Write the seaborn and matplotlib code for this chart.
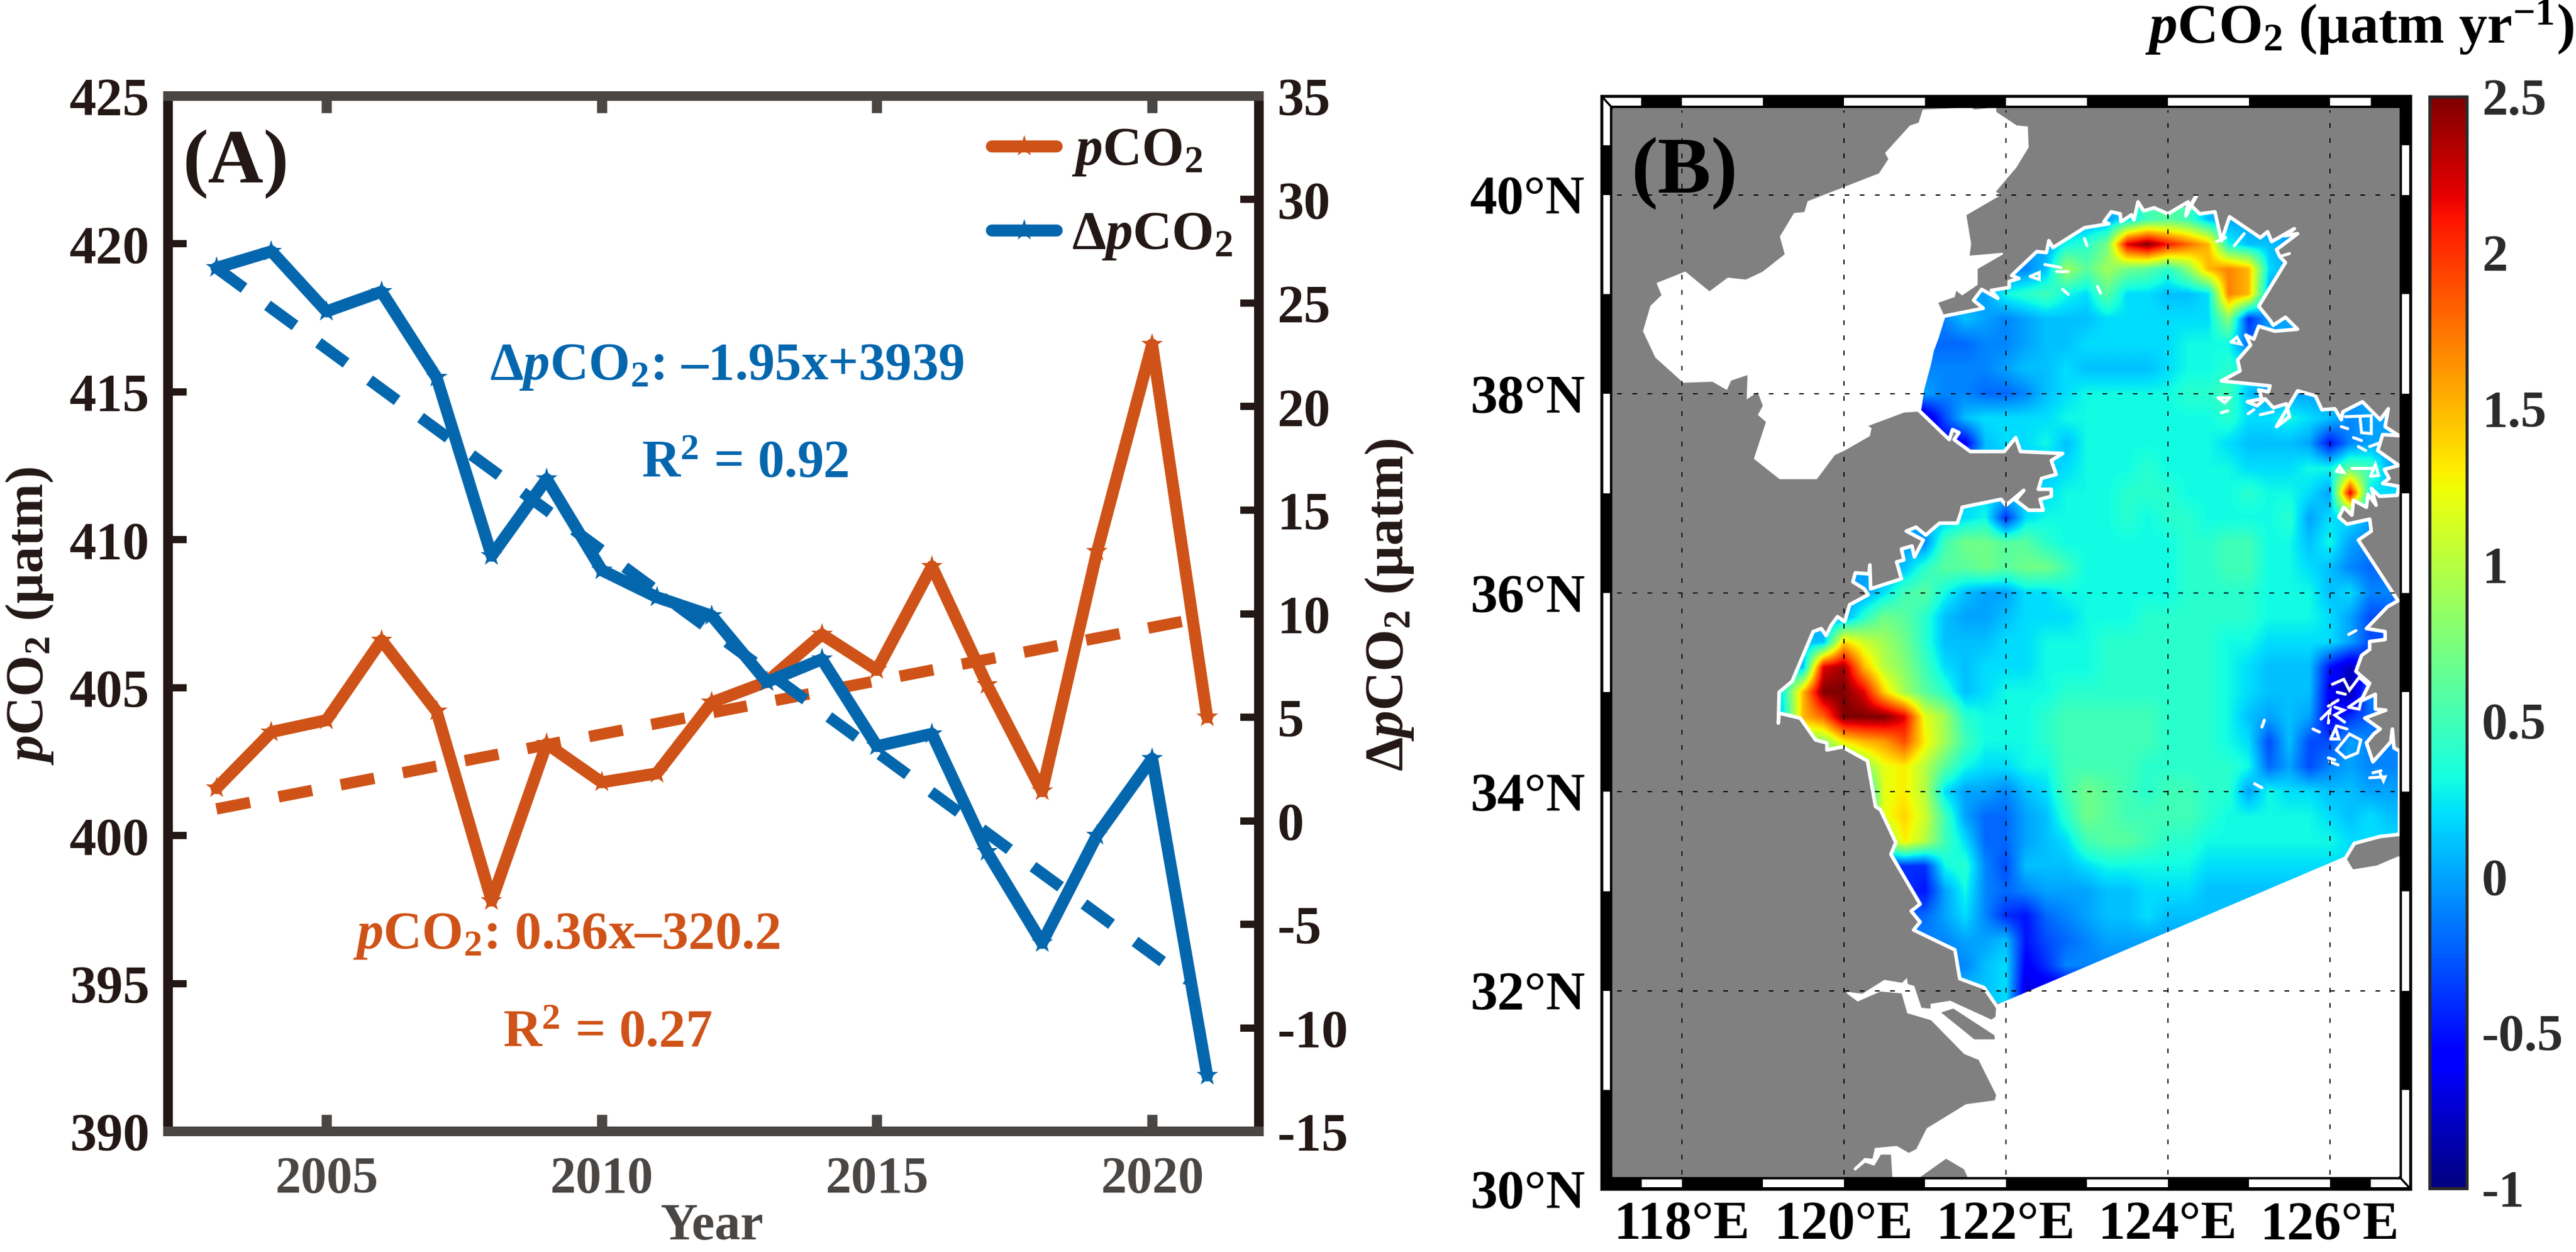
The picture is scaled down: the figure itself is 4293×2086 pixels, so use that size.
import numpy as np
import matplotlib
matplotlib.use("Agg")
import matplotlib.pyplot as plt
from matplotlib.patches import Polygon, Rectangle
import seaborn as sns

W, H, DPI = 4293, 2086, 100

years = list(range(2003, 2022))
pco2 = [401.6, 403.5, 403.9, 406.6, 404.2, 397.8, 403.1, 401.8, 402.1, 404.5,
        405.2, 406.8, 405.6, 409.1, 405.1, 401.5, 409.6, 416.6, 404.0]
dpco2 = [26.7, 27.5, 24.6, 25.55, 21.4, 12.8, 16.5, 12.1, 10.8, 9.9,
         6.7, 7.8, 3.6, 4.2, -1.5, -5.9, -0.7, 3.0, -12.3]
trend_years_p = [2003, 2021]
trend_p = [400.9, 407.4]
trend_years_d = [2003, 2020.65]
trend_d = [26.7, -7.7]
x_ticks = [2005, 2010, 2015, 2020]
p_ticks = list(range(390, 426, 5))
d_ticks = list(range(-15, 36, 5))
cbar_ticks = [-1, -0.5, 0, 0.5, 1, 1.5, 2, 2.5]
cbar_labels = ["-1", "-0.5", "0", "0.5", "1", "1.5", "2", "2.5"]
lon_ticks = [118, 120, 122, 124, 126]
lat_ticks = [30, 32, 34, 36, 38, 40]

# trend field (tenths of uatm/yr); rows from 39.75N southward in 0.25 deg steps,
# each row starts at field_start_lon and continues eastward in 0.25 deg steps
field_start_lon = [123.25, 122.5, 122.25, 121.75, 121.25, 121.25, 121.0, 121.0, 121.0, 121.5, 122.5, 122.25,
                   121.25, 120.75, 120.5, 120.25, 120.0, 119.75, 119.5, 119.25, 119.25, 119.75, 120.0,
                   120.25, 120.25, 120.5, 120.75, 120.75, 121.0, 121.25, 121.5, 121.75]
field_rows = [
    [0, 2, 5, 6, 5, 1, 0, 0],
    [0, 3, 4, 7, 22, 25, 21, 18, 15, 3, 1, 1, 0],
    [-1, 1, 9, 6, 9, 7, 6, 4, 8, 15, 17, 15, 2, 0],
    [0, 3, 4, 5, 3, 2, 6, 2, 2, 1, 1, 2, 17, 15, 0],
    [-1, 1, 0, -1, 0, 1, 1, 1, 2, 2, 2, 2, 2, 2, 8, -4, 0],
    [-2, -2, -1, -1, 0, 1, 1, 2, 2, 2, 2, 2, 3, 3, 3, -2, 0],
    [-1, -1, -1, -1, 0, 1, 1, 2, 1, 1, 1, 1, 2, 3, 3, 4, 3, 1, 1],
    [0, -1, -1, -2, -2, -1, 1, 2, 3, 3, 3, 3, 3, 4, 4, 5, 1, 0, 0, 0, 0],
    [-8, -3, 1, 2, 2, 2, 2, 3, 3, 3, 3, 3, 3, 3, 3, 4, 2, 2, 3, 2, 1, -1, 0],
    [-6, 1, 2, 2, 3, 1, 3, 3, 3, 3, 3, 3, 3, 2, 1, 1, 1, 0, -5, -1, 0],
    [1, 2, 3, 3, 3, 4, 3, 3, 3, 3, 2, 2, 2, 3, 3, 6, 5, 0],
    [2, 2, 3, 3, 3, 4, 4, 4, 3, 3, 3, 4, 3, 3, 2, 0, 22, 2],
    [1, 2, 3, -4, 2, 3, 3, 3, 3, 4, 3, 4, 4, 3, 3, 3, 3, 4, 0, 2, 2, 0],
    [0, -1, 5, 7, 7, 6, 6, 4, 3, 3, 3, 3, 3, 3, 4, 4, 5, 5, 3, 3, 1, 3, 0, -1],
    [0, 1, 4, 6, 6, 7, 6, 7, 7, 5, 3, 3, 3, 3, 3, 4, 4, 5, 5, 3, 3, 2, 1, -1, -2],
    [0, 2, 5, 6, 3, 1, 0, 0, 2, 2, 3, 3, 3, 3, 3, 3, 4, 4, 4, 4, 3, 3, 3, 1, 2, -1],
    [0, 4, 7, 6, 4, 1, 0, 0, 1, 2, 2, 2, 3, 3, 3, 4, 4, 4, 4, 4, 4, 3, 3, 3, 2, 0, -3],
    [1, 14, 11, 9, 7, 4, 1, 1, 1, 2, 2, 3, 3, 3, 4, 4, 4, 4, 4, 4, 3, 3, 2, 2, 2, 2, 0, -3],
    [1, 22, 24, 15, 10, 8, 5, 2, 1, 2, 2, 2, 3, 3, 3, 4, 4, 4, 4, 4, 4, 3, 2, 1, 1, 1, -5, -8, -5],
    [3, 15, 25, 25, 22, 14, 9, 6, 4, 1, 2, 3, 3, 3, 4, 4, 4, 4, 4, 4, 4, 4, 3, 2, 1, 1, 1, -6, -9, -1],
    [2, 15, 18, 25, 25, 25, 22, 12, 9, 4, 3, 3, 3, 4, 5, 5, 5, 5, 5, 4, 4, 4, 3, 1, 0, 1, 0, -6, -4, -2],
    [8, 13, 15, 16, 19, 13, 9, 5, 3, 3, 3, 4, 5, 5, 5, 5, 5, 4, 4, 4, 3, 2, -3, 1, -3, -3, 0, -1],
    [4, 8, 12, 13, 10, 6, 3, 2, 2, 3, 3, 5, 5, 5, 5, 4, 4, 4, 4, 4, 3, -2, 0, -3, -1, 0, -1],
    [1, 12, 13, 10, 2, 0, 0, -1, 1, 2, 5, 7, 6, 5, 4, 5, 5, 4, 4, 0, 3, 2, 2, 1, 1, 0, 0],
    [1, 12, 14, 11, 5, 0, -2, -2, 0, 1, 4, 7, 6, 5, 5, 5, 5, 4, 3, 3, 3, 3, 3, 2, 1, 2, 1],
    [8, 13, 10, 5, 2, -2, -2, 0, 1, 2, 5, 6, 6, 5, 4, 4, 3, 3, 3, 3, 3, 3, 3, 2],
    [-4, -4, 3, 4, -1, -3, 1, 1, 1, 2, 3, 3, 3, 3, 3, 2, 2, 2, 2],
    [-4, -5, 0, 3, -1, -2, -1, 0, 0, 0, 1, 1, 2, 2, 2, 1],
    [-2, 0, 2, -1, -4, -5, -2, -1, 0, 1, 1, 2, 1],
    [-1, 0, 0, 1, -5, -3, -2, -1, 0],
    [-1, 1, 2, -6, -4, -1],
    [1, 2, -7],
]
field_first_lat = 39.75
field_first_lon = 119.0
field_step = 0.25
field_cols = 32

sea_lon = [120.93, 120.97, 121.01, 121.05, 121.09, 121.15, 121.18, 121.23, 121.72, 121.6, 121.7, 121.9, 121.82, 122.04,
           122.04, 122.16, 122.07, 122.38, 122.5, 122.53, 122.58, 122.97, 123.27, 123.21, 123.3, 123.41, 123.42, 123.55,
           123.58, 123.63, 123.7, 123.83, 124.0, 124.25, 124.22, 124.35, 124.28, 124.39, 124.58, 124.66, 124.76, 125.14,
           125.23, 125.28, 125.56, 125.44, 125.6, 125.34, 125.38, 125.45, 125.12, 125.26, 125.3, 125.45, 125.6, 125.32,
           125.12, 125.06, 124.96, 125.02, 124.86, 124.89, 124.66, 125.26, 125.24, 125.12, 125.16, 124.98, 125.1, 125.2,
           125.3, 125.46, 125.5, 125.34, 125.6, 125.82, 125.9, 126.06, 126.14, 126.16, 126.4, 126.62, 126.72, 126.68,
           126.85, 126.65, 126.59, 126.85, 126.67, 126.73, 126.65, 126.85, 126.83, 126.61, 126.51, 126.57, 126.47, 126.45,
           126.29, 126.27, 126.17, 126.11, 126.21, 126.49, 126.51, 126.35, 126.84, 126.71, 126.45, 126.68, 126.68, 126.49,
           126.49, 126.39, 126.32, 126.49, 126.38, 126.56, 126.56, 126.69, 126.43, 126.62, 126.54, 126.45, 126.53, 126.75,
           126.77, 126.79, 126.86, 126.86, 126.84, 126.62, 126.3, 126.19, 121.89, 121.73, 121.43, 121.37, 120.86, 120.94,
           120.83, 120.94, 120.58, 120.64, 120.45, 120.39, 120.29, 119.98, 119.79, 119.79, 119.65, 119.46, 119.2, 119.19,
           119.2, 119.36, 119.62, 119.72, 119.78, 119.84, 119.92, 120.01, 120.07, 120.3, 120.25, 120.11, 120.14, 120.31,
           120.32, 120.33, 120.71, 120.65, 120.74, 120.71, 120.84, 120.87, 120.98, 120.77, 120.89, 121.01, 121.18, 121.4,
           121.45, 121.46, 121.94, 122.0, 122.22, 122.12, 122.28, 122.46, 122.42, 122.56, 122.56, 122.4, 122.44, 122.62,
           122.56, 122.7, 122.18, 122.12, 121.98, 121.56, 121.36, 121.42, 121.34, 121.3]
sea_lat = [37.83, 38.05, 38.17, 38.29, 38.44, 38.57, 38.65, 38.78, 38.86, 38.94, 39.05, 38.96, 39.04, 39.07,
           39.13, 39.16, 39.19, 39.43, 39.42, 39.54, 39.47, 39.67, 39.71, 39.73, 39.83, 39.81, 39.73, 39.8,
           39.75, 39.93, 39.84, 39.87, 39.81, 39.93, 39.79, 39.99, 39.9, 39.81, 39.83, 39.54, 39.78, 39.57,
           39.63, 39.53, 39.66, 39.59, 39.61, 39.45, 39.38, 39.32, 38.88, 38.74, 38.69, 38.77, 38.65, 38.63,
           38.68, 38.55, 38.59, 38.49, 38.34, 38.23, 38.13, 38.08, 38.02, 38.04, 37.95, 37.92, 37.88, 37.95,
           37.86, 37.9, 37.77, 37.67, 38.03, 37.98, 37.84, 37.85, 37.74, 37.82, 37.92, 37.74, 37.85, 37.67,
           37.58, 37.59, 37.43, 37.28, 37.24, 37.15, 37.1, 37.07, 36.98, 36.97, 37.05, 36.88, 36.99, 36.86,
           36.93, 36.78, 36.86, 36.76, 36.69, 36.74, 36.62, 36.53, 35.92, 35.86, 35.64, 35.61, 35.53, 35.51,
           35.43, 35.37, 35.21, 35.09, 34.91, 34.98, 34.83, 34.82, 34.74, 34.63, 34.58, 34.49, 34.3, 34.5,
           34.63, 34.44, 34.41, 33.57, 33.57, 33.55, 33.48, 33.33, 31.84, 32.03, 32.12, 32.41, 32.61, 32.69,
           32.8, 32.87, 33.37, 33.49, 33.82, 33.85, 34.31, 34.45, 34.42, 34.49, 34.52, 34.74, 34.79, 34.69,
           35.0, 35.11, 35.61, 35.64, 35.57, 35.67, 35.76, 35.71, 35.88, 35.98, 36.04, 36.11, 36.2, 36.19,
           36.28, 36.04, 36.14, 36.31, 36.33, 36.44, 36.47, 36.36, 36.53, 36.62, 36.66, 36.58, 36.7, 36.7,
           36.82, 36.86, 36.94, 36.88, 37.03, 36.93, 36.83, 36.83, 36.94, 36.97, 37.04, 37.04, 37.15, 37.19,
           37.33, 37.4, 37.42, 37.56, 37.42, 37.42, 37.54, 37.61, 37.64, 37.54]

bohai_lon = [120.93, 120.97, 121.01, 121.05, 121.09, 121.15, 121.18, 121.23, 121.15, 121.36, 121.38, 121.46, 121.64, 121.64,
             121.96, 121.54, 121.56, 121.5, 121.92, 121.86, 122.12, 122.27, 122.26, 122.13, 121.87, 121.87, 121.74, 121.61,
             121.56, 120.98, 120.93, 120.82, 120.52, 120.56, 120.44, 119.56, 119.52, 119.39, 119.22, 119.28, 119.0, 118.79,
             118.57, 118.34, 118.04, 117.7, 117.76, 117.62, 117.53, 117.68, 118.02, 118.38, 118.55, 118.6, 118.82, 118.81,
             118.94, 119.01, 118.95, 119.05, 118.9, 119.21, 119.66, 119.88, 120.01, 120.31, 120.33, 120.28, 120.74]
bohai_lat = [37.83, 38.05, 38.17, 38.29, 38.44, 38.57, 38.65, 38.78, 38.92, 38.98, 39.05, 39.0, 39.1, 39.26,
             39.41, 39.38, 39.51, 39.8, 40.0, 40.03, 40.28, 40.48, 40.68, 40.69, 40.83, 40.87, 40.86, 40.85,
             40.87, 40.85, 40.72, 40.69, 40.42, 40.36, 40.21, 39.93, 39.82, 39.81, 39.58, 39.4, 39.22, 39.14,
             39.16, 39.02, 39.22, 39.11, 38.99, 38.88, 38.63, 38.37, 38.12, 38.13, 38.05, 38.14, 38.2, 37.96,
             38.03, 37.88, 37.79, 37.72, 37.35, 37.15, 37.15, 37.39, 37.44, 37.58, 37.65, 37.68, 37.82]

east_white_lon = [121.89, 126.19, 126.28, 126.58, 126.84, 126.9, 126.9, 121.55, 121.49, 121.26, 120.88, 120.61, 120.59, 120.45,
                  120.37, 120.26, 120.14, 120.13, 120.26, 120.36, 120.39, 120.65, 120.8, 120.9, 121.03, 121.51, 121.87, 121.89,
                  121.67, 121.49, 121.08, 120.79, 120.72, 120.45, 120.17, 120.04, 120.23, 120.5, 120.72, 120.77, 120.78, 120.86,
                  120.95, 121.08, 121.08, 121.31, 121.82, 121.88]
east_white_lat = [31.84, 33.33, 33.21, 33.25, 33.34, 33.34, 30.1, 30.1, 30.21, 30.32, 30.1, 30.1, 30.36, 30.36,
                  30.25, 30.28, 30.2, 30.21, 30.31, 30.3, 30.41, 30.43, 30.36, 30.4, 30.61, 30.85, 30.89, 30.95,
                  31.31, 31.37, 31.71, 31.78, 31.98, 32.0, 31.9, 31.98, 31.96, 32.1, 32.07, 32.11, 32.06, 32.04,
                  31.82, 31.81, 31.86, 31.89, 31.7, 31.73]
chongming_lon = [121.2, 121.35, 121.86, 121.86, 121.61]
chongming_lat = [31.78, 31.82, 31.55, 31.51, 31.51]

island_lons = [[122.48, 122.68], [122.62, 122.76], [122.3, 122.41, 122.41, 122.3], [122.97, 123.0], [122.7, 122.77],
               [123.13, 123.17], [124.6, 124.71], [124.82, 124.94], [124.78, 124.85, 124.9, 124.78], [125.38, 125.5],
               [124.62, 124.76, 124.7, 124.62], [124.66, 124.74], [124.99, 125.06], [125.14, 125.3],
               [126.19, 126.51, 126.51, 126.39, 126.37], [126.14, 126.22], [126.29, 126.39], [126.35, 126.44],
               [126.49, 126.59], [126.27, 126.53], [126.08, 126.12, 126.17, 126.08], [126.5, 126.56, 126.6, 126.5],
               [126.23, 126.32], [126.03, 126.17, 126.24, 126.36, 126.47], [126.09, 126.19], [125.98, 126.1],
               [125.89, 126.0, 125.98], [126.06, 126.17, 126.06, 126.18], [126.09, 126.21],
               [126.01, 126.07, 126.11, 126.01], [125.79, 125.87], [126.08, 126.24, 126.38, 126.34, 126.19, 126.08],
               [125.19, 125.16], [125.07, 125.16], [125.98, 126.06], [126.0, 126.1], [126.49, 126.68, 126.66, 126.62],
               [126.53, 126.63], [126.23, 126.39, 126.36, 126.23]]
island_lats = [[39.3, 39.27], [39.23, 39.23], [39.18, 39.22, 39.15, 39.18], [39.56, 39.49], [39.05, 39.0],
               [39.08, 39.01], [39.53, 39.57], [39.49, 39.61], [38.52, 38.57, 38.5, 38.52], [39.38, 39.41],
               [37.96, 37.96, 37.91, 37.96], [37.81, 37.83], [37.8, 37.84], [37.79, 37.82],
               [37.77, 37.78, 37.6, 37.61, 37.77], [37.67, 37.65], [37.56, 37.53], [37.47, 37.43],
               [37.47, 37.5], [37.25, 37.25], [37.22, 37.27, 37.21, 37.22], [37.17, 37.29, 37.18, 37.17],
               [35.58, 35.62], [35.08, 35.13, 35.02, 35.15, 35.07], [35.0, 34.98], [34.86, 34.92],
               [34.73, 34.82, 34.69], [34.85, 34.82, 34.77, 34.7], [34.66, 34.63],
               [34.53, 34.64, 34.53, 34.53], [34.63, 34.6], [34.42, 34.58, 34.52, 34.39, 34.34, 34.42],
               [34.72, 34.65], [34.08, 34.04], [34.34, 34.32], [34.3, 34.27], [34.14, 34.15, 34.11, 34.18],
               [34.19, 34.21], [34.85, 34.94, 34.83, 34.85]]

# frame strips: white pieces of the map border, in degrees
top_white = [(117, 117.5), (118, 119), (120, 121), (122, 123), (124, 125), (126, 126.5)]
bottom_white = [(117.5, 118), (119, 120), (121, 122), (123, 124), (125, 126), (126.5, 127)]
left_white = [(40.5, 41), (39, 40), (37, 38), (35, 36), (33, 34), (31, 32)]
right_white = [(40, 40.5), (38, 39), (36, 37), (34, 35), (32, 33), (30, 31)]

ORANGE = "#cf5318"
BLUE = "#0467ae"
INK = "#231815"
GRAYINK = "#4a4644"
CBINK = "#2b2b2b"
LAND = "#808080"

sns.set_style("white")
plt.rcParams.update({
    "font.family": ["Liberation Serif", "DejaVu Serif"],
    "font.weight": "bold",
    "axes.labelweight": "bold",
    "axes.unicode_minus": False,
    "mathtext.fontset": "custom",
    "mathtext.rm": "Liberation Serif:bold",
    "mathtext.it": "Liberation Serif:italic:bold",
    "mathtext.bf": "Liberation Serif:bold",
    "mathtext.default": "regular",
})


def rect_px(l, t, r, b):
    return [l / W, 1 - b / H, (r - l) / W, (b - t) / H]


def px_text(x, y, s, **kw):
    return fig.text(x / W, 1 - y / H, s, **kw)


pt = 72 / DPI  # points per output pixel
fig = plt.figure(figsize=(W / DPI, H / DPI), dpi=DPI, facecolor="white")

# ---------- panel A ----------
ax = fig.add_axes(rect_px(280, 160, 2098, 1885))
ax2 = ax.twinx()
ax.set_facecolor("none")
line_kw = dict(errorbar=None, legend=False, linewidth=20 * pt, marker="*", markersize=27, markeredgewidth=0)
dash_kw = dict(errorbar=None, legend=False, linewidth=19 * pt, linestyle=(0, (3.0, 2.55)))
sns.lineplot(x=trend_years_p, y=trend_p, ax=ax, color=ORANGE, **dash_kw)
sns.lineplot(x=years, y=pco2, ax=ax, color=ORANGE, label="$\\mathit{p}\\mathrm{CO_2}$", **line_kw)
sns.lineplot(x=trend_years_d, y=trend_d, ax=ax2, color=BLUE, **dash_kw)
sns.lineplot(x=years, y=dpco2, ax=ax2, color=BLUE, label="Δ$\\mathit{p}\\mathrm{CO_2}$", **line_kw)

ax.set_xlim(2002.12, 2021.94)
ax.set_ylim(390, 425)
ax2.set_ylim(-15, 35)
ax.set_xticks(x_ticks)
ax.set_yticks(p_ticks)
ax2.set_yticks(d_ticks)
ax.set_xlabel("")
ax.set_ylabel("")
ax2.set_ylabel("")
ax.tick_params(axis="x", which="major", direction="in", top=True, bottom=True, length=20, width=12 * pt * 1.4,
               color=GRAYINK, labelcolor=GRAYINK, labelsize=62, pad=30)
ax.tick_params(axis="y", direction="in", length=22, width=12 * pt, color=INK, labelcolor=INK, labelsize=64, pad=22)
ax2.tick_params(axis="y", direction="in", length=22, width=12 * pt, color=INK, labelcolor=INK, labelsize=64, pad=22)
for a in (ax, ax2):
    for side in ("top", "bottom"):
        a.spines[side].set_color(GRAYINK)
        a.spines[side].set_linewidth(16 * pt)
    for side in ("left", "right"):
        a.spines[side].set_color(INK)
        a.spines[side].set_linewidth(16 * pt)

h1, l1 = ax.get_legend_handles_labels()
h2, l2 = ax2.get_legend_handles_labels()
ax2.legend(h1 + h2, l1 + l2, loc="upper left", bbox_to_anchor=(1653 / W, 1 - 212 / H),
           bbox_transform=fig.transFigure, frameon=False, borderpad=0, borderaxespad=0,
           fontsize=65, handlelength=1.2, handletextpad=0.27, labelspacing=0.62, labelcolor=INK)

px_text(393, 273, "(A)", fontsize=92, color=INK, ha="center", va="center")
px_text(1211, 632, "Δ$\\mathit{p}\\mathrm{CO_2}$: –1.95x+3939", fontsize=64, color=BLUE, ha="center", va="baseline")
px_text(1242, 794, "R$^{2}$ = 0.92", fontsize=64, color=BLUE, ha="center", va="baseline")
px_text(944, 1580, "$\\mathit{p}\\mathrm{CO_2}$: 0.36x–320.2", fontsize=64, color=ORANGE, ha="center", va="baseline")
px_text(1012, 1743, "R$^{2}$ = 0.27", fontsize=64, color=ORANGE, ha="center", va="baseline")
px_text(50, 1027, "$\\mathit{p}\\mathrm{CO_2}$ (µatm)", fontsize=64, color=INK, rotation=90, ha="center", va="center")
px_text(2316, 1008, "Δ$\\mathit{p}\\mathrm{CO_2}$ (µatm)", fontsize=65, color=INK, rotation=90, ha="center", va="center")
px_text(1186, 2045, "Year", fontsize=62, color=GRAYINK, ha="center", va="center")

# ---------- panel B ----------
mp = fig.add_axes(rect_px(2668, 159, 4018, 1982))
mp.set_facecolor(LAND)
field = np.array([[r[0]] * int(round((s - field_first_lon) / field_step)) + r
                  + [r[-1]] * (field_cols - int(round((s - field_first_lon) / field_step)) - len(r))
                  for s, r in zip(field_start_lon, field_rows)], dtype=float) / 10.0
half = field_step / 2
extent = (field_first_lon - half, field_first_lon + field_step * (field_cols - 1) + half,
          field_first_lat - field_step * (len(field_rows) - 1) - half, field_first_lat + half)
im = mp.imshow(field, extent=extent, origin="upper", aspect="auto", cmap="jet", vmin=-1, vmax=2.5,
               interpolation="bilinear", zorder=2)
sea = Polygon(np.column_stack([sea_lon, sea_lat]), closed=True, transform=mp.transData, facecolor="none",
              edgecolor="white", linewidth=6 * pt, joinstyle="round", zorder=3)
mp.add_patch(sea)
im.set_clip_path(Polygon(np.column_stack([sea_lon, sea_lat]), closed=True, transform=mp.transData))
for lo, la in [(bohai_lon, bohai_lat), (east_white_lon, east_white_lat)]:
    mp.add_patch(Polygon(np.column_stack([lo, la]), closed=True, facecolor="white", edgecolor="white",
                         linewidth=2, zorder=1))
mp.add_patch(Polygon(np.column_stack([chongming_lon, chongming_lat]), closed=True, facecolor=LAND,
                     edgecolor="none", zorder=2))
for lo, la in zip(island_lons, island_lats):
    mp.plot(lo, la, color="white", lw=5 * pt, solid_joinstyle="miter", zorder=3)

for lon in [118, 120, 122, 124, 126]:
    mp.plot([lon, lon], [30.15, 40.85], color="black", lw=1.4, linestyle=(0, (4, 9)), zorder=4)
for lat in [32, 34, 36, 38, 40]:
    mp.plot([117.2, 126.8], [lat, lat], color="black", lw=1.4, linestyle=(0, (4, 9)), zorder=4)

dx_in, dy_in = 0.14, 0.126   # frame thickness in degrees
gx, gy = 3.5 / 135, 3.5 / 165.7  # black rim around white pieces
for xy, w, h in [((117, 30), 10, dy_in), ((117, 41 - dy_in), 10, dy_in), ((117, 30), dx_in, 11), ((127 - dx_in, 30), dx_in, 11)]:
    mp.add_patch(Rectangle(xy, w, h, facecolor="black", edgecolor="none", zorder=5))
for a, b in top_white:
    mp.add_patch(Rectangle((a + gx * (a == 117), 41 - dy_in + gy), b - a - gx * (a == 117), dy_in - 2 * gy,
                           facecolor="white", edgecolor="none", zorder=6))
for a, b in bottom_white:
    mp.add_patch(Rectangle((a, 30 + gy), b - a - gx * (b == 127), dy_in - 2 * gy,
                           facecolor="white", edgecolor="none", zorder=6))
for a, b in left_white:
    mp.add_patch(Rectangle((117 + gx, a), dx_in - 2 * gx, b - a - gy * (b == 41), facecolor="white", edgecolor="none", zorder=6))
for a, b in right_white:
    mp.add_patch(Rectangle((127 - dx_in + gx, a + gy * (a == 30)), dx_in - 2 * gx, b - a - gy * (a == 30),
                           facecolor="white", edgecolor="none", zorder=6))
mp.plot([117, 117 + dx_in], [41, 41 - dy_in], color="black", lw=2.5, zorder=7)
mp.plot([127, 127 - dx_in], [30, 30 + dy_in], color="black", lw=2.5, zorder=7)

mp.set_xlim(117, 127)
mp.set_ylim(30, 41)
mp.set_xticks(lon_ticks)
mp.set_xticklabels([f"{v}°E" for v in lon_ticks])
mp.set_yticks(lat_ticks)
mp.set_yticklabels([f"{v}°N" for v in lat_ticks])
mp.tick_params(axis="both", length=0, labelsize=65, labelcolor="black")
mp.tick_params(axis="x", pad=14)
mp.tick_params(axis="y", pad=19)
for s in mp.spines.values():
    s.set_color("black")
    s.set_linewidth(2)
px_text(2807, 289, "(B)", fontsize=96, color="black", ha="center", va="center", zorder=10)

# ---------- colour bar ----------
cax = fig.add_axes(rect_px(4049, 161, 4111, 1980))
cb = fig.colorbar(im, cax=cax, ticks=cbar_ticks, drawedges=False)
cb.set_ticklabels(cbar_labels)
cb.outline.set_edgecolor(CBINK)
cb.outline.set_linewidth(5 * pt)
cax.tick_params(axis="y", direction="in", length=14, width=3.5 * pt * 1.2, color=CBINK, labelcolor=CBINK, labelsize=62, pad=18)
px_text(4290, 72, "$\\mathit{p}\\mathrm{CO_2}$ (µatm yr$^{-1}$)", fontsize=68, color="black", ha="right", va="baseline")

fig.savefig("out.png", dpi=DPI, facecolor="white")
